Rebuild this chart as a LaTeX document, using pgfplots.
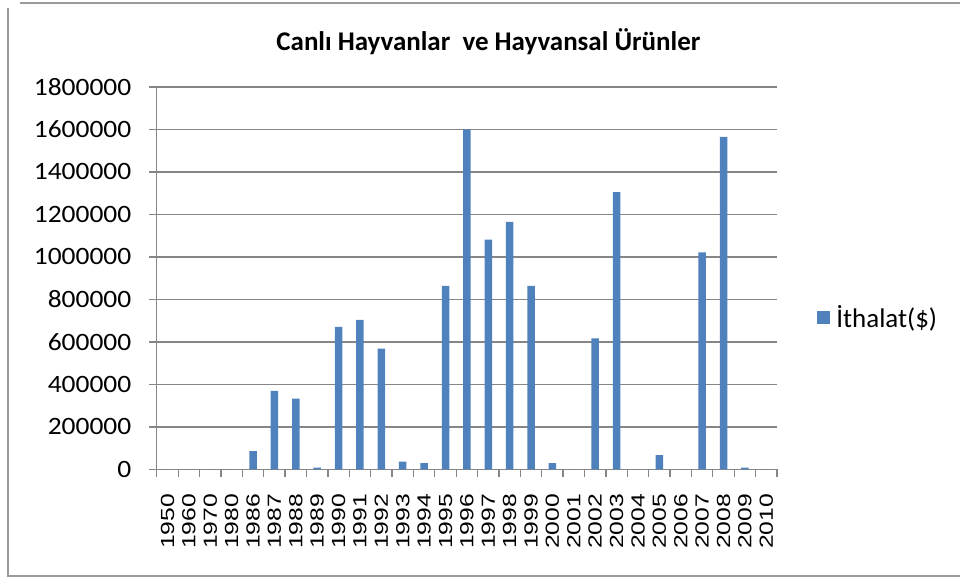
\documentclass[border=0pt]{standalone}
\usepackage{pgfplots}
\pgfplotsset{compat=1.18}
\usepackage{fontspec}
\usepackage{graphicx}
\setmainfont{Carlito}
\newfontfamily\arialf{Liberation Sans}
\definecolor{barblue}{HTML}{4F81BD}
\definecolor{gridgray}{HTML}{868686}
\definecolor{framegray}{HTML}{9A9A9A}
\newcommand{\xl}[1]{\scalebox{1.3}[1]{#1}}
\begin{document}
\begin{tikzpicture}[x=1pt,y=1pt]
\path (0,0) rectangle (961,580);
\draw[framegray, line width=2.5pt] (961,577) -- (20,577);
\draw[framegray, line width=2.5pt] (8,572) -- (8,3) -- (961,3);
\node[font=\fontsize{27}{32}\selectfont\bfseries] at (489,538) {Canlı Hayvanlar\ \ ve Hayvansal Ürünler};
\begin{axis}[
  at={(157pt,110pt)}, anchor=south west,
  scale only axis, width=621pt, height=383pt,
  ymin=0, ymax=1800000,
  xmin=-0.5, xmax=28.5,
  ytick={0,200000,...,1800000},
  scaled y ticks=false,
  /pgf/number format/.cd, fixed, 1000 sep={}, assume math mode=true, /pgfplots/.cd,
  yticklabel={\scalebox{1.1}[1]{\pgfmathprintnumber{\tick}}},
  yticklabel style={font=\fontsize{25}{30}\selectfont, xshift=-14pt},
  ymajorgrids,
  major grid style={gridgray, line width=1.3pt},
  axis x line*=bottom, axis y line*=left,
  axis line style={gridgray, line width=1.3pt},
  tick align=outside,
  major tick length=8pt,
  ytick style={gridgray, line width=1.3pt},
  xtick={0,...,28},
  xticklabels={\xl{1950},\xl{1960},\xl{1970},\xl{1980},\xl{1986},\xl{1987},\xl{1988},\xl{1989},\xl{1990},\xl{1991},\xl{1992},\xl{1993},\xl{1994},\xl{1995},\xl{1996},\xl{1997},\xl{1998},\xl{1999},\xl{2000},\xl{2001},\xl{2002},\xl{2003},\xl{2004},\xl{2005},\xl{2006},\xl{2007},\xl{2008},\xl{2009},\xl{2010}},
  xticklabel style={rotate=90, anchor=east, font=\arialf\fontsize{19}{22}\selectfont, xshift=-13pt},
  major x tick style={draw=none},
  minor xtick={-0.5,0.5,...,28.5},
  minor x tick style={gridgray, line width=1.3pt},
  minor tick length=8pt,
  legend style={at={(1.06,0.397)}, anchor=west, draw=none, fill=none, font=\fontsize{27}{32}\selectfont},
  legend image code/.code={\fill[barblue] (0pt,-6.5pt) rectangle (13pt,6.5pt);},
  clip=false,
]
\addplot[ybar, bar width=7.5pt, fill=barblue, draw=none] coordinates {
(0,0) (1,0) (2,0) (3,0) (4,86000) (5,369000) (6,333000) (7,8000) (8,671000) (9,703000)
(10,568000) (11,36000) (12,30000) (13,864000) (14,1600000) (15,1081000) (16,1165000) (17,864000)
(18,30000) (19,0) (20,616000) (21,1305000) (22,0) (23,67000) (24,0) (25,1021000) (26,1565000)
(27,8000) (28,0)};
\addlegendentry{\hspace{4pt}İthalat(\$)}
\end{axis}
\end{tikzpicture}
\end{document}
